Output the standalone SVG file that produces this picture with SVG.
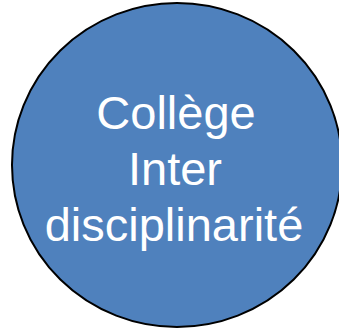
<svg xmlns="http://www.w3.org/2000/svg" width="339" height="329" viewBox="0 0 339 329">
<style>
.lbl{font-family:"Liberation Sans",Arial,sans-serif;font-size:47px;fill:#ffffff;text-anchor:middle}
</style>
<g id="node-college">
<ellipse cx="177" cy="165" rx="165" ry="162" fill="#4F81BD" stroke="#000000" stroke-width="2"/>
<text class="lbl" x="176" y="129">Collège</text>
<text class="lbl" x="175" y="185">Inter</text>
<text class="lbl" x="174" y="241">disciplinarité</text>
</g>
<g id="connectors"></g>
</svg>
